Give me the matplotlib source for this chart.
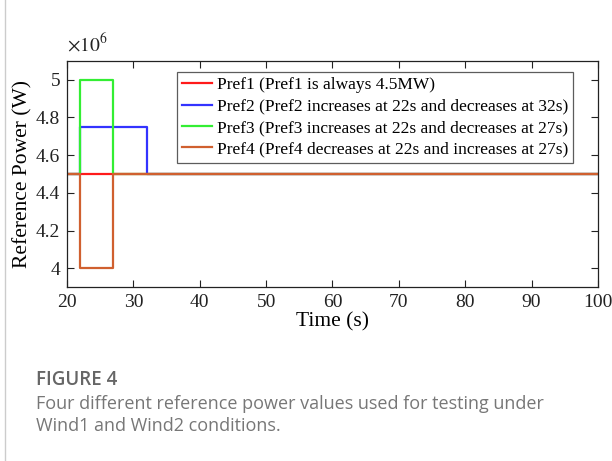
import matplotlib
matplotlib.use("Agg")
import matplotlib.pyplot as plt
from matplotlib.ticker import FuncFormatter
from matplotlib.lines import Line2D

plt.rcParams['font.family'] = ['Liberation Serif', 'DejaVu Serif']
plt.rcParams['mathtext.fontset'] = 'stix'

# Data (step profiles, time in s, power in W)
t1 = [0, 100]
p1 = [4.5e6, 4.5e6]
t2 = [0, 22, 22, 32, 32, 100]
p2 = [4.5e6, 4.5e6, 4.75e6, 4.75e6, 4.5e6, 4.5e6]
t3 = [0, 22, 22, 27, 27, 100]
p3 = [4.5e6, 4.5e6, 5.0e6, 5.0e6, 4.5e6, 4.5e6]
t4 = [0, 22, 22, 27, 27, 100]
p4 = [4.5e6, 4.5e6, 4.0e6, 4.0e6, 4.5e6, 4.5e6]

labels = ["Pref1 (Pref1 is always 4.5MW)",
          "Pref2 (Pref2 increases at 22s and decreases at 32s)",
          "Pref3 (Pref3 increases at 22s and decreases at 27s)",
          "Pref4 (Pref4 decreases at 22s and increases at 27s)"]
colors = ["#ff1a1a", "#3333ff", "#33ee33", "#d0602f"]
xticks = [20, 30, 40, 50, 60, 70, 80, 90, 100]
yticks = [4.0e6, 4.2e6, 4.4e6, 4.6e6, 4.8e6, 5.0e6]

fig = plt.figure(figsize=(6.12, 4.61), dpi=100)
ax = fig.add_axes([0.1095, 0.3774, 0.8675, 0.4903])

for t, p, c, l in zip([t1, t2, t3, t4], [p1, p2, p3, p4], colors, labels):
    ax.plot(t, p, color=c, lw=1.6, label=l)

ax.set_xlim(20, 100)
ax.set_ylim(3.9e6, 5.1e6)
ax.set_xticks(xticks)
ax.set_yticks(yticks)
ax.yaxis.set_major_formatter(FuncFormatter(lambda v, pos: f"{v/1e6:g}"))
ax.text(0.0, 1.025, r"$\times10^{6}$", transform=ax.transAxes, fontsize=14,
        ha='left', va='bottom', color='#222222')
ax.tick_params(direction='in', top=True, right=True, labelsize=14, length=5, width=0.8,
               colors='#222222', pad=5)
for s in ax.spines.values():
    s.set_linewidth(0.9)
    s.set_color('#222222')
ax.set_xlabel("Time (s)", fontsize=15.5, labelpad=1)
ax.set_ylabel("Reference Power (W)", fontsize=15.5, labelpad=2)

leg = ax.legend(loc='upper right', bbox_to_anchor=(0.953, 0.951), fontsize=12.5,
                frameon=True, fancybox=False, edgecolor='#333333',
                handlelength=1.75, handletextpad=0.25, borderpad=0.3, labelspacing=0.3,
                borderaxespad=0)
leg.get_frame().set_linewidth(0.9)

# caption
fig.text(36/612, 1 - 385/461, "FIGURE 4", fontsize=13.5, color='#666666',
         family='Open Sans', fontweight='semibold', va='baseline')
fig.text(36/612, 1 - 409/461, "Four different reference power values used for testing under",
         fontsize=13, color='#777777', family='Open Sans', va='baseline')
fig.text(36/612, 1 - 431/461, "Wind1 and Wind2 conditions.",
         fontsize=13, color='#777777', family='Open Sans', va='baseline')
fig.add_artist(Line2D([5/612, 5/612], [0, 1], transform=fig.transFigure, color='#cccccc', lw=1))

fig.savefig("out.png", dpi=100)
